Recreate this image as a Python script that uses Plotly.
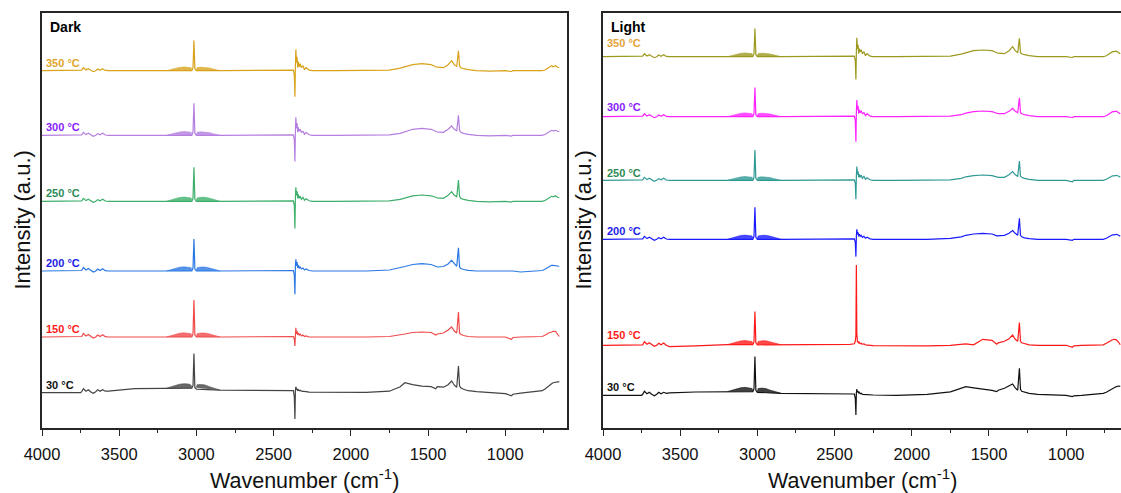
import plotly.graph_objects as go

# ---------------------------------------------------------------------------
# Wavenumber grid (cm-1) shared by every spectrum
# ---------------------------------------------------------------------------
WN = [4000, 3750, 3743, 3732, 3715, 3700, 3685, 3668, 3652, 3639, 3624, 3607, 3590, 3570,
      3400, 3200, 3030, 3022, 3016, 3010, 3000, 2850, 2600, 2400, 2372,
      2366, 2362, 2359, 2356, 2352, 2348, 2344, 2340, 2334, 2328, 2320, 2310, 2300, 2290, 2270, 2250,
      2100, 1900, 1750, 1680, 1650, 1600, 1540, 1480, 1450, 1440, 1400, 1370, 1347, 1330, 1314,
      1303, 1296, 1288, 1270, 1240, 1185, 1100, 1000, 960, 950, 900, 800, 760, 740, 720, 700, 690, 675, 660, 650]

# CH4 rotational P / R branch envelopes (dense line clusters)
COMB_WN_P = [3195, 3170, 3140, 3110, 3080, 3050, 3034, 3030]
COMB_WN_R = [3001, 2996, 2970, 2945, 2920, 2890, 2865, 2845]

TEMPS = ["350 °C", "300 °C", "250 °C", "200 °C", "150 °C", "30 °C"]

# Vertical offsets of the stacked spectra (a.u.)
dark_offsets = [357.3, 292.7, 226.7, 157.0, 91.0, 35.3]
light_offsets = [371.3, 311.3, 247.7, 188.7, 82.7, 32.7]

# ---------------------------- Dark ----------------------------------------
dark_350 = [0, 0, 0.5, 3, 0.7, 2, 0.5, -1, 0, 1.7, 0.5, 2, 0.3, 0,
            0, 0, 0, 3, 30.3, 2, 0, 0, 0, 0, 0.5,
            -4, -26, 5, 21.3, 8, 14, 3, 9, 4, 7, 3, 5, 1, 3, 0.5, 0,
            0, 0, 0.5, 2.5, 4, 6, 7, 6, 4, 3.5, 3, 6, 10, 6, 4.5,
            20, 5, 3, 2, 1, 0, -0.5, 0, -0.8, 0, 0, 0, 0, 1, 3, 5, 4, 5, 3.5, 3]
dark_300 = [0, 0, 0.5, 3, 0.7, 2, 0.5, -1, 0, 1.7, 0.5, 2, 0.3, 0,
            0, 0, 0, 3, 32, 2, 0, 0, 0, 0, 0.5,
            -4, -26.3, 4, 18, 7, 12, 3, 8, 4, 6, 3, 4, 1, 3, 0.5, 0,
            0, 0, 0.5, 2, 3.5, 6, 7, 6, 4, 3.5, 3, 6, 9.3, 6, 4.5,
            20, 5, 3, 2, 1, 0, -0.5, 0, -0.8, 0, 0, 0, 0, 1, 3, 5, 4.5, 5, 4, 3.5]
dark_250 = [0, 0, 0.5, 3, 0.7, 2, 0.5, -1, 0, 1.7, 0.5, 2, 0.3, 0,
            0, 0, 0, 3, 34, 2, 0, 0, 0, 0, 0.5,
            -4, -27.3, 4, 14, 6, 10, 3, 7, 3, 5, 2, 4, 1, 2.5, 0.5, 0,
            0, 0, 0.5, 2, 3.5, 5.5, 6.3, 5.5, 4, 3.5, 3, 6, 9.7, 6, 4.5,
            21.3, 5, 3, 2, 1, 0, -0.5, 0, -0.8, 0, 0, 0, 0, 1, 3, 5, 4.5, 5.5, 4, 3.5]
dark_200 = [0, 0, 0.5, 3.5, 1, 2.5, 0.5, -1, 0, 2, 0.5, 2.3, 0.3, 0,
            0, 0, 0, 3, 32, 2, 0, 0, 0, 0, 0.5,
            -4, -23.3, 4, 11.7, 5, 9, 3, 6, 3, 4, 2, 3, 1, 2, 0.5, 0,
            0, 0, 1, 3, 4.5, 6.5, 7.3, 6.5, 4, 4, 4.5, 7, 10.7, 7, 4.7,
            23.3, 4, 2.5, 1.5, 0.7, 0, 0, 0, -0.5, 0, -1, 0, 0.5, 2, 4, 5.7, 5.7, 5.7, 5, 4.5]
dark_150 = [0, 0, 0.5, 3.5, 1, 2.5, 0.5, -1, 0, 2, 0.5, 2.3, 0.3, 0,
            0, 0, 0, 3, 37, 2, 0, 0, 0, 0, 0.5,
            -2, -9, 2, 9.3, 3, 6, 2, 4, 2, 3, 1, 2, 0.5, 1, 0, 0,
            -0.5, 0, 0.5, 2, 3, 4.5, 5, 4.5, 2, 3, 4, 7, 10, 6, 4,
            25, 4, 2.7, 1.5, 0.5, 0, 0, 0, -2.3, -0.5, 0, 0, 0.5, 2, 4, 5, 5.7, 5.7, 3, 0.5]
dark_30 = [0, 0, 1, 4, 1.5, 3, 1, -0.5, 1, 3, 1.5, 3, 1.5, 1.5,
           4, 4.5, 4.5, 7, 39.3, 5, 3.5, 2.5, 2, 2, 2,
           -4, -26.3, 2, 6, 3, 4, 2, 3, 2, 2.5, 1.5, 1.5, 1, 1, 0.5, 0.5,
           0, 0.3, 1.5, 6, 10, 8, 6.5, 6, 4, 6, 5.5, 8, 11.7, 7.5, 5.5,
           26.7, 7, 5, 3.5, 2, 1, 0, -1, -3, -1.5, -0.5, 1, 2, 4, 7, 9, 10, 10.5, 11, 11]

dark_350_comb = [0, 1, 2.2, 3.3, 3.8, 3.5, 3, 0, 0, 3, 3.5, 3.5, 2.8, 1.6, 0.8, 0]
dark_300_comb = [0, 1, 2.2, 3.3, 3.8, 3.5, 3, 0, 0, 3, 3.5, 3.5, 2.8, 1.6, 0.8, 0]
dark_250_comb = [0, 1.2, 2.6, 3.8, 4.2, 4, 3.3, 0, 0, 3.3, 4, 4, 3.2, 2, 0.8, 0]
dark_200_comb = [0, 1.2, 2.6, 3.8, 4.2, 4, 3.3, 0, 0, 3.3, 4, 4, 3.2, 2, 0.8, 0]
dark_150_comb = [0, 1.2, 2.6, 3.8, 4.2, 4, 3.3, 0, 0, 3.3, 4, 4, 3.2, 2, 0.8, 0]
dark_30_comb = [4.5, 5.7, 7.2, 8.5, 9, 8.7, 7.5, 4.5, 5, 8, 8.3, 7.8, 6.3, 4.8, 3.5, 2.5]

# ---------------------------- Light ---------------------------------------
light_350 = [0, 0, 0.5, 3, 0.7, 2, 0.5, -1, 0, 1.7, 0.5, 2, 0.3, 0,
             0, 0, 0, 3, 28.3, 2, 0, 0, 0, 0, 0.5,
             -4, -22.7, 5, 19, 8, 12, 3, 8, 5, 7, 3, 5, 1, 3, 0.5, 0,
             0, 0, 0.5, 2.5, 4, 6, 6.7, 6, 4, 3.5, 3, 6, 10, 6, 4,
             18.3, 4, 3, 2, 1, 0, 0, 0, -0.8, 0, 0, 0, 0, 1, 3, 5, 5, 5.5, 4, 3]
light_300 = [0, 0, 0.5, 3, 0.7, 2, 0.5, -1, 0, 1.7, 0.5, 2, 0.3, 0,
             0, 0, 0, 3, 29.3, 2, 0, 0, 0, 0, 0.5,
             -4, -25, 4, 16.7, 7, 11, 3, 7, 4, 6, 3, 4, 1, 3, 0.5, 0,
             0, 0, 0.5, 2, 3.5, 5, 5.7, 5, 3.5, 3, 3, 5.5, 8.3, 5.5, 4,
             19, 4, 3, 2, 1, 0, 0, 0, -0.8, 0, 0, 0, 0, 1, 3, 5, 5, 5.5, 4, 3]
light_250 = [0, 0, 0.5, 3, 0.7, 2, 0.5, -1, 0, 1.7, 0.5, 2, 0.3, 0,
             0, 0, 0, 3, 30.3, 2, 0, 0, 0, 0, 0.5,
             -3, -19, 4, 13.7, 6, 9, 3, 6, 3, 5, 2, 4, 1, 2.5, 0.5, 0,
             0, 0, 0.5, 2, 3.5, 4.7, 5.3, 4.7, 3.5, 3, 3, 5.5, 8.7, 5.5, 4,
             19.3, 4, 3, 2, 1, 0, 0, 0, -1.5, 0, 0, 0, 0, 1, 3, 4.5, 4.5, 5, 4, 3]
light_200 = [0, 0, 0.5, 3, 0.7, 2, 0.5, -1, 0, 1.7, 0.5, 2, 0.3, 0,
             0, 0, 0, 3, 32, 2, 0, 0, 0, 0, 0.5,
             -3, -17.3, 3, 10, 5, 7, 3, 5, 3, 4, 2, 3, 1, 2, 0.5, 0,
             0, 0, 1, 2.5, 4, 5.3, 6, 5.3, 3.5, 3.5, 4, 6, 8.7, 6, 4,
             21, 4, 2.5, 1.5, 0.7, 0, 0, 0, -1, 0, 0, 0, 0, 1, 3, 4.5, 4.5, 5, 4, 3]
light_150 = [0, 0, 0.5, 3.5, 1, 2.5, 0.5, -1, 0, 2, 0.5, 2.3, 0, -1.3,
             -0.5, 0.7, 0.7, 3.5, 33.7, 2.5, 0.5, 0.5, 0.7, 1, 1.5,
             4, 10, 80.3, 12, 3, 4, 2, 3, 1.5, 2, 1, 1.5, 0.5, 0.5, 0, -0.3,
             -0.7, -0.5, 0, 1, 1.5, 0.5, 6, 5, 1, 2.5, 4, 6.5, 10.3, 6, 4,
             22.7, 4, 2.5, 1.5, 0.5, 0, 0, 0, -2, -0.5, 0, 0, 0.5, 2, 4, 5.5, 6, 5.5, 3, 0.5]
light_30 = [0, 0, 1, 4, 1.5, 3, 1, -0.5, 1, 3, 1.5, 3, 2, 2.5,
            3.3, 3.7, 3.7, 6.5, 38.7, 5, 3, 2, 1.5, 1.3, 1.3,
            -3, -19.7, 2, 6.3, 3, 4, 2, 3, 1.5, 2, 1, 1, 0.5, 0.5, 0.3, 0.3,
            0, 1, 3.5, 7, 8.7, 7.5, 6.5, 5, 3.7, 5, 7, 9, 11.3, 7.5, 5,
            27, 6, 4, 3, 2, 1, 0.5, 0, -1.3, -0.5, 0, 1.3, 2, 3, 5, 7, 8, 8.7, 9.3, 9]

light_350_comb = [0, 1, 2.2, 3.3, 3.8, 3.5, 3, 0, 0, 3, 3.5, 3.5, 2.8, 1.6, 0.8, 0]
light_300_comb = [0, 1, 2.2, 3.3, 3.8, 3.5, 3, 0, 0, 3, 3.5, 3.5, 2.8, 1.6, 0.8, 0]
light_250_comb = [0, 1, 2.2, 3.3, 3.8, 3.5, 3, 0, 0, 3, 3.5, 3.5, 2.8, 1.6, 0.8, 0]
light_200_comb = [0, 1.2, 2.6, 3.8, 4.2, 4, 3.3, 0, 0, 3.3, 4, 4, 3.2, 2, 0.8, 0]
light_150_comb = [0.7, 1.8, 3.2, 4.4, 4.8, 4.5, 3.8, 0.7, 0.5, 3.8, 4.5, 4.5, 3.6, 2.4, 1.2, 0.5]
light_30_comb = [3.7, 4.8, 6.3, 7.5, 8, 7.7, 6.8, 3.7, 3, 6.8, 7.2, 6.8, 5.3, 4, 2.8, 2]

dark_spectra = [dark_350, dark_300, dark_250, dark_200, dark_150, dark_30]
dark_combs = [dark_350_comb, dark_300_comb, dark_250_comb, dark_200_comb, dark_150_comb, dark_30_comb]
light_spectra = [light_350, light_300, light_250, light_200, light_150, light_30]
light_combs = [light_350_comb, light_300_comb, light_250_comb, light_200_comb, light_150_comb, light_30_comb]

for s in dark_spectra + light_spectra:
    assert len(s) == len(WN)

# ---------------------------------------------------------------------------
# Styling
# ---------------------------------------------------------------------------
FONT = "Arial, Liberation Sans, sans-serif"
dark_line = ["#D9A21B", "#B47FE0", "#3DAF6A", "#2B78E4", "#F04B4B", "#444444"]
dark_label = ["#E0A52A", "#8A1CFF", "#2E8B57", "#1C1CE8", "#FF1A1A", "#111111"]
light_line = ["#9C9A1E", "#FF22FF", "#2F9A94", "#1A1AFF", "#FF1A1A", "#111111"]
light_label = ["#E6A33A", "#8A1CFF", "#2E8B57", "#1C1CE8", "#FF1A1A", "#111111"]
dark_label_lift = [0, 0, 0, 0, 0, 0]
light_label_lift = [5.5, 1.7, -0.5, 0, 2, 0]


def with_alpha(hex_color, alpha):
    h = hex_color.lstrip("#")
    r, g, b = int(h[0:2], 16), int(h[2:4], 16), int(h[4:6], 16)
    return f"rgba({r},{g},{b},{alpha})"


fig = go.Figure()


def add_panel(xa, ya, spectra, combs, offsets, lines, label_colors, lifts, label_x):
    for spec, comb, off, lc, tc, lift, name in zip(spectra, combs, offsets, lines,
                                                    label_colors, lifts, TEMPS):
        # filled envelope of the CH4 rotational lines
        cx = COMB_WN_P + [None] + COMB_WN_R
        cy = [off + v for v in comb[:8]] + [None] + [off + v for v in comb[8:]]
        fig.add_trace(go.Scatter(x=cx, y=cy, xaxis=xa, yaxis=ya, mode="lines",
                                 fill="toself", fillcolor=with_alpha(lc, 0.8),
                                 line=dict(color=with_alpha(lc, 0.9), width=0.6),
                                 hoverinfo="skip", showlegend=False))
        fig.add_trace(go.Scatter(x=WN, y=[off + v for v in spec], xaxis=xa, yaxis=ya,
                                 mode="lines", line=dict(color=lc, width=1.2),
                                 name=name, showlegend=False))
        fig.add_annotation(x=label_x, y=off + lift, xref=xa, yref=ya,
                           text=f"<b>{name}</b>", showarrow=False,
                           xanchor="left", yanchor="bottom",
                           font=dict(family=FONT, size=11, color=tc))


add_panel("x", "y", dark_spectra, dark_combs, dark_offsets, dark_line, dark_label,
          dark_label_lift, 3990)
add_panel("x2", "y2", light_spectra, light_combs, light_offsets, light_line, light_label,
          light_label_lift, 3985)

axis_common = dict(
    showline=True, linecolor="#262626", linewidth=1.5,
    ticks="outside", ticklen=6, tickwidth=1.3, tickcolor="#262626",
    dtick=500, tick0=0,
    minor=dict(ticks="outside", ticklen=3.5, dtick=250, tickwidth=1.3, tickcolor="#262626"),
    showgrid=False, zeroline=False,
    tickfont=dict(family=FONT, size=16.5, color="#111111"),
    ticklabelstandoff=4,
)
yaxis_common = dict(range=[0, 415], showline=True, linecolor="#262626", linewidth=1.5,
                    showticklabels=False, ticks="", showgrid=False, zeroline=False)

fig.update_layout(
    width=1121, height=493,
    margin=dict(l=42, r=0, t=13, b=65),
    paper_bgcolor="white", plot_bgcolor="white",
    font=dict(family=FONT, color="#111111"),
    xaxis=dict(domain=[0, 0.48656], range=[4000, 600], mirror=True, anchor="y", **axis_common),
    xaxis2=dict(domain=[0.51993, 1.0], range=[4000, 645], mirror=True, anchor="y2", **axis_common),
    yaxis=dict(domain=[0, 1], anchor="x", mirror=True, **yaxis_common),
    yaxis2=dict(domain=[0, 1], anchor="x2", mirror=False, **yaxis_common),
)

# panel titles
for xd, yd, txt in [("x domain", "y domain", "Dark"), ("x2 domain", "y2 domain", "Light")]:
    fig.add_annotation(x=0.012, y=0.966, xref=xd, yref=yd, text=f"<b>{txt}</b>",
                       showarrow=False, xanchor="left", yanchor="middle",
                       font=dict(family=FONT, size=14, color="#000000"))

# axis titles
for xp in [-0.0185, 0.5014]:
    fig.add_annotation(x=xp, y=0.5, xref="paper", yref="paper", text="Intensity (a.u.)",
                       textangle=-90, showarrow=False, xanchor="center", yanchor="middle",
                       font=dict(family=FONT, size=22, color="#111111"))
for xd in ["x domain", "x2 domain"]:
    fig.add_annotation(x=0.5, y=-0.122, xref=xd, yref="paper",
                       text="Wavenumber (cm<sup>-1</sup>)", showarrow=False,
                       xanchor="center", yanchor="middle",
                       font=dict(family=FONT, size=21.5, color="#111111"))

fig.write_html("out.html")
